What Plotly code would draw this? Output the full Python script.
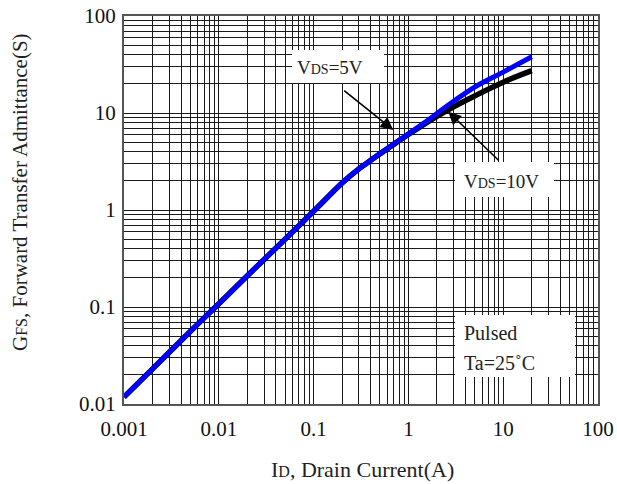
import plotly.graph_objects as go

# ---- data ----
id_current = [0.001, 0.002, 0.005, 0.01, 0.02, 0.05, 0.1, 0.2, 0.3, 0.4, 0.7, 1, 1.5, 2, 3, 5, 10, 20]
gfs_vds5 = [0.0118, 0.023, 0.056, 0.108, 0.21, 0.50, 0.97, 1.9, 2.65, 3.25, 4.8, 6.1, 8.0, 9.9, 13.2, 18.5, 26.4, 38]
gfs_vds10 = [0.0118, 0.023, 0.056, 0.108, 0.21, 0.50, 0.97, 1.9, 2.65, 3.25, 4.75, 6.0, 7.75, 9.25, 11.6, 15.0, 20.8, 27.3]

x_ticks = [0.001, 0.01, 0.1, 1, 10, 100]
x_tick_labels = ["0.001", "0.01", "0.1", "1", "10", "100"]
y_ticks = [0.01, 0.1, 1, 10, 100]
y_tick_labels = ["0.01", "0.1", "1", "10", "100"]

x_minor = [k * 10 ** e for e in range(-3, 2) for k in range(2, 10)]
y_minor = [k * 10 ** e for e in range(-2, 2) for k in range(2, 10)]

FONT = "Liberation Serif"
W, H = 617, 484
L, R, T, B = 124, 19, 16, 80
PW, PH = W - L - R, H - T - B


def px(x):
    return (x - L) / PW


def py(y):
    return (H - B - y) / PH


fig = go.Figure()
fig.add_trace(go.Scatter(x=id_current, y=gfs_vds10, mode="lines",
                         line=dict(color="black", width=5.5, shape="spline"),
                         name="VDS=10V", showlegend=False))
fig.add_trace(go.Scatter(x=id_current, y=gfs_vds5, mode="lines",
                         line=dict(color="#0000ff", width=5, shape="spline"),
                         name="VDS=5V", showlegend=False))

axis_common = dict(
    type="log", showgrid=True, gridcolor="#1a1a1a", gridwidth=1,
    showline=True, linecolor="#555", linewidth=2, mirror=True,
    ticks="", tickfont=dict(family=FONT, size=21, color="#111"),
    zeroline=False, automargin=False,
)

fig.update_xaxes(range=[-3, 2], tickvals=x_ticks, ticktext=x_tick_labels,
                 ticklabelstandoff=5,
                 minor=dict(tickvals=x_minor, showgrid=True, gridcolor="#1a1a1a", gridwidth=1, ticks=""),
                 **axis_common)
fig.update_yaxes(range=[-2, 2], tickvals=y_ticks, ticktext=y_tick_labels,
                 ticklabelstandoff=2,
                 minor=dict(tickvals=y_minor, showgrid=True, gridcolor="#1a1a1a", gridwidth=1, ticks=""),
                 **axis_common)

# white label boxes
boxes = [(292, 50, 384, 83), (455, 162, 554, 197), (455, 315, 575, 377)]
shapes = []
for x0, y0, x1, y1 in boxes:
    shapes.append(dict(type="rect", xref="paper", yref="paper",
                       x0=px(x0), x1=px(x1), y0=py(y1), y1=py(y0),
                       fillcolor="white", line=dict(width=0), layer="above"))

small = '<span style="font-size:14px">DS</span>'


def label(text, x, y, size, xanchor="center", angle=0):
    return dict(text=text, x=px(x), y=py(y), xref="paper", yref="paper",
                xanchor=xanchor, yanchor="middle", showarrow=False, textangle=angle,
                font=dict(family=FONT, size=size, color="#222"))


def arrow(tip, tail):
    return dict(text="", x=px(tip[0]), y=py(tip[1]), xref="paper", yref="paper",
                ax=tail[0] - tip[0], ay=tail[1] - tip[1], axref="pixel", ayref="pixel",
                showarrow=True, arrowhead=2, arrowsize=1.6, arrowwidth=1.6,
                arrowcolor="black", standoff=0)


annotations = [
    label("V" + small + "=5V", 330, 68, 19),
    label("V" + small + "=10V", 501, 181, 19),
    label("Pulsed", 462, 333, 20, xanchor="left"),
    label("Ta=25˚C", 462, 363, 20, xanchor="left"),
    arrow((393.3, 130), (342.7, 89.3)),
    arrow((448.3, 111.7), (500, 161.7)),
    label('I<span style="font-size:16px">D</span>, Drain Current(A)', 362, 469, 22),
    label('G<span style="font-size:16px">FS</span>, Forward Transfer Admittance(S)', 20, 192, 21, angle=-90),
]

fig.update_layout(
    width=W, height=H,
    margin=dict(l=L, r=R, t=T, b=B, autoexpand=False),
    paper_bgcolor="white", plot_bgcolor="white",
    shapes=shapes, annotations=annotations,
    font=dict(family=FONT, color="black"),
)

fig.write_html("out.html")
